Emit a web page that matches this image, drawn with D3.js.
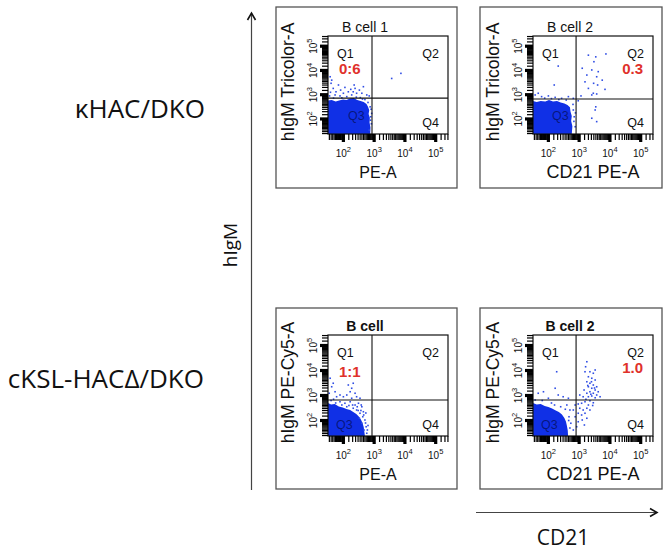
<!DOCTYPE html>
<html>
<head>
<meta charset="utf-8">
<script src="https://d3js.org/d3.v7.min.js"></script>
<style>
  body { margin: 0; background: #fff; }
  svg { display: block; }
</style>
</head>
<body>
<svg id="chart" width="669" height="554"></svg>
<script>
// all fluorescence values below are log10 intensities [x, y]
var rowLabels = ["\u03baHAC/DKO", "cKSL-HAC\u0394/DKO"];
var bigAxisLabels = ["hIgM", "CD21"];
var panelTitles = ["B cell 1", "B cell 2", "B cell", "B cell 2"];
var xAxisLabels = ["PE-A", "CD21 PE-A", "PE-A", "CD21 PE-A"];
var yAxisLabels = ["hIgM Tricolor-A", "hIgM Tricolor-A", "hIgM PE-Cy5-A", "hIgM PE-Cy5-A"];
var quadrantNames = ["Q1", "Q2", "Q3", "Q4"];
var gatePercent = ["0:6", "0.3", "1:1", "1.0"];
var gateQuadrant = ["Q1", "Q2", "Q1", "Q2"];
var tickExponents = [2, 3, 4, 5];
var gateX = [2.93, 2.90, 2.93, 2.90];
var gateY = [2.86, 2.82, 2.82, 2.82];

// dense population outline (Q3) per panel
var blob1 = [[1.5,1.38],[1.5,2.76],[1.62,2.78],[1.75,2.72],[1.86,2.76],[1.99,2.80],[2.10,2.78],[2.22,2.84],
  [2.33,2.86],[2.45,2.78],[2.56,2.74],[2.66,2.70],[2.75,2.62],[2.80,2.50],[2.84,2.36],[2.82,2.20],[2.86,2.05],
  [2.85,1.85],[2.88,1.65],[2.87,1.38]];
var blob2 = [[1.5,1.38],[1.5,2.74],[1.62,2.70],[1.75,2.74],[1.90,2.72],[2.02,2.78],[2.15,2.72],[2.28,2.74],
  [2.40,2.68],[2.52,2.64],[2.62,2.58],[2.70,2.48],[2.72,2.30],[2.76,2.12],[2.74,1.92],[2.78,1.70],[2.76,1.38]];
var blob3 = [[1.5,1.38],[1.5,2.70],[1.60,2.64],[1.72,2.66],[1.85,2.56],[1.98,2.52],[2.10,2.46],[2.22,2.42],
  [2.32,2.34],[2.42,2.26],[2.50,2.16],[2.57,2.04],[2.62,1.90],[2.66,1.74],[2.68,1.56],[2.70,1.38]];
var blob4 = [[1.5,1.38],[1.5,2.70],[1.62,2.64],[1.75,2.66],[1.88,2.58],[2.00,2.54],[2.12,2.48],[2.24,2.40],
  [2.34,2.34],[2.44,2.24],[2.52,2.10],[2.57,1.96],[2.60,1.80],[2.63,1.60],[2.64,1.38]];

// single events outside the dense population
var dots1 = [[1.62,3.60],[1.67,3.26],[1.76,3.12],[1.84,3.40],[1.91,3.19],[2.00,3.06],[2.05,3.30],[2.16,3.12],
  [2.24,3.22],[2.32,3.12],[2.38,3.26],[2.43,3.06],[2.52,3.19],[2.60,3.06],[2.65,3.33],[2.35,3.40],[2.27,2.99],
  [1.89,2.95],[1.73,2.99],[2.11,2.92],[2.76,2.99],[2.84,2.95],[1.57,3.74],[1.60,3.47],[3.57,3.67],[3.87,3.88],
  [2.87,2.50],[2.89,2.09],[2.84,1.54],[2.92,2.23],[1.55,2.95],[1.58,3.10],[2.55,2.88],[2.70,2.80],[2.91,1.80],
  [2.90,2.40],[2.88,1.95],[2.80,2.68],[2.62,2.82],[2.42,2.90],[1.68,2.86],[1.95,2.87]];
var dots2 = [[3.30,4.63],[3.54,4.56],[3.87,4.68],[3.48,4.36],[3.10,4.09],[3.41,4.02],[3.62,3.95],[3.25,3.81],
  [3.57,3.74],[3.75,3.60],[3.19,3.53],[3.47,3.47],[3.60,3.40],[3.30,3.26],[3.46,3.06],[3.57,3.03],[3.41,2.99],
  [3.06,2.95],[3.84,3.22],[3.54,2.50],[3.52,2.37],[3.41,2.03],[3.57,1.89],[2.32,4.18],[2.19,3.40],[1.67,3.06],
  [1.57,2.99],[1.78,2.92],[2.00,2.95],[2.22,2.89],[2.43,2.85],[2.65,2.92],[2.81,2.85],[2.97,2.75],[2.81,2.37],
  [2.84,2.09],[2.87,1.68],[2.80,2.60],[2.83,1.90],[2.88,2.25],[2.58,2.78],[1.88,2.86],[2.10,2.84],[2.34,2.80]];
var dots3 = [[1.57,3.69],[1.62,3.35],[1.54,3.09],[1.73,3.15],[1.78,2.95],[2.16,3.42],[2.27,3.29],[2.32,3.49],
  [2.22,3.15],[2.38,3.09],[2.11,3.02],[2.43,2.95],[2.00,2.95],[1.89,3.02],[2.27,2.89],[2.54,2.89],[1.67,3.49],
  [1.89,2.75],[2.05,2.69],[2.22,2.75],[2.38,2.62],[2.49,2.69],[2.60,2.55],[2.43,2.42],[2.54,2.29],[2.65,2.35],
  [2.63,2.15],[2.70,2.02],[2.60,1.89],[2.74,1.75],[2.67,1.62],[2.76,1.49],[2.32,2.49],[2.11,2.55],[1.95,2.62],
  [2.52,2.09],[1.60,2.80],[1.75,2.70],[2.45,2.55],[2.57,2.40],[2.72,1.90],[2.78,1.62],[2.66,2.22],[2.58,2.62],
  [2.30,2.62],[2.18,2.60],[1.68,2.85],[2.48,2.40],[2.73,2.30],[2.80,1.80]];
var dots4 = [[3.25,4.35],[3.21,4.15],[3.35,3.95],[3.46,3.89],[3.30,3.75],[3.41,3.69],[3.52,3.62],[3.25,3.55],
  [3.35,3.49],[3.46,3.42],[3.57,3.35],[3.30,3.35],[3.41,3.29],[3.16,3.22],[3.52,3.22],[3.62,3.15],[3.35,3.15],
  [3.46,3.09],[3.25,3.09],[3.57,3.02],[3.41,2.98],[3.30,2.95],[3.68,2.95],[3.52,2.91],[3.13,2.95],[3.02,3.02],
  [3.19,3.95],[3.52,4.02],[3.35,2.79],[3.19,2.75],[3.46,2.71],[3.08,2.69],[3.30,2.62],[2.97,2.66],[2.87,2.62],
  [3.25,2.49],[3.13,2.42],[3.02,2.49],[3.35,2.42],[3.19,2.29],[3.08,2.22],[2.97,2.29],[3.25,2.09],[3.10,2.02],
  [2.97,1.95],[3.17,1.82],[2.87,2.15],[2.81,2.42],[2.92,1.75],[2.81,1.62],[1.67,3.09],[1.84,3.15],[2.22,3.29],
  [2.32,3.02],[2.48,2.95],[2.65,2.89],[2.00,2.89],[2.27,3.95],[1.57,2.82],[2.60,2.62],[2.70,2.42],[2.67,2.15],
  [2.73,1.89],[3.40,3.55],[3.28,3.40],[3.50,3.30],[3.38,3.05],[3.22,2.85],[3.44,2.60],[2.55,2.45],[2.66,2.00],
  [2.70,1.70],[2.40,2.55],[2.20,2.62],[1.80,2.80],[2.10,2.70]];

var blobs = [blob1, blob2, blob3, blob4];
var dots = [dots1, dots2, dots3, dots4];

// panel geometry (plot area + outer box)
var plots = [
  { x: 328, y: 36, w: 120, h: 98, box: [276, 7, 181, 181], xlab: 378, bold: false },
  { x: 533, y: 36, w: 120, h: 98, box: [480, 7, 182, 181], xlab: 593, bold: false },
  { x: 328, y: 335, w: 120, h: 101, box: [276, 308, 181, 181], xlab: 378, bold: true },
  { x: 533, y: 335, w: 120, h: 101, box: [480, 308, 182, 181], xlab: 593, bold: true }
];

var svg = d3.select("#chart");
var arial = "'Liberation Sans', Arial, sans-serif";
var sans = "'Open Sans', 'Noto Sans', sans-serif";
var blue = "#1030e6";

/*** OUTER LABELS AND ARROWS ***/
svg.append("text").attr("x", 205).attr("y", 118).attr("text-anchor", "end")
  .attr("font-family", sans).attr("font-size", 26).attr("fill", "#111").text(rowLabels[0]);
svg.append("text").attr("x", 204).attr("y", 388).attr("text-anchor", "end")
  .attr("font-family", sans).attr("font-size", 26).attr("fill", "#111").text(rowLabels[1]);
svg.append("text").attr("transform", "translate(237,245) rotate(-90)").attr("text-anchor", "middle")
  .attr("font-family", sans).attr("font-size", 19).attr("fill", "#111").text(bigAxisLabels[0]);
svg.append("text").attr("x", 563).attr("y", 545).attr("text-anchor", "middle")
  .attr("font-family", sans).attr("font-size", 21).attr("fill", "#111").text(bigAxisLabels[1]);

svg.append("line").attr("x1", 251.5).attr("y1", 490).attr("x2", 251.5).attr("y2", 13)
  .attr("stroke", "#444").attr("stroke-width", 1.2);
svg.append("path").attr("d", "M247.5,20 L251.5,13 L255.5,20").attr("fill", "none")
  .attr("stroke", "#111").attr("stroke-width", 1.6);
svg.append("line").attr("x1", 476).attr("y1", 512.5).attr("x2", 657).attr("y2", 512.5)
  .attr("stroke", "#444").attr("stroke-width", 1.2);
svg.append("path").attr("d", "M650,508.5 L657,512.5 L650,516.5").attr("fill", "none")
  .attr("stroke", "#111").attr("stroke-width", 1.6);

/*** PANELS ***/
//dense comb of minor ticks, like the cytometer software draws
var minorTicks = [];
for (let k = 1; k <= 5; k++) {
  for (let m = 1.5; m < 10; m += 0.5) {
    if (m !== 1) minorTicks.push(m * Math.pow(10, k));
  }
}

plots.forEach(function(p, i) {
  let g = svg.append("g");
  let x = d3.scaleLog().domain([Math.pow(10, 1.5), Math.pow(10, 5.4)]).range([p.x, p.x + p.w]);
  let y = d3.scaleLog().domain([Math.pow(10, 1.38), Math.pow(10, 5.42)]).range([p.y + p.h, p.y]);
  let px = d => x(Math.pow(10, d));
  let py = d => y(Math.pow(10, d));

  g.append("rect").attr("x", p.box[0]).attr("y", p.box[1]).attr("width", p.box[2]).attr("height", p.box[3])
    .attr("fill", "none").attr("stroke", "#555").attr("stroke-width", 1.3);

  g.append("clipPath").attr("id", "clip" + i).append("rect")
    .attr("x", p.x).attr("y", p.y).attr("width", p.w).attr("height", p.h);
  let inner = g.append("g").attr("clip-path", "url(#clip" + i + ")");

  //dense population
  let line = d3.line().x(d => px(d[0])).y(d => py(d[1]));
  inner.append("path").attr("d", line(blobs[i]) + "Z").attr("fill", blue);

  //single events
  inner.selectAll("rect.ev").data(dots[i]).enter().append("rect").attr("class", "ev")
    .attr("x", d => px(d[0]) - 0.8).attr("y", d => py(d[1]) - 0.8)
    .attr("width", 1.6).attr("height", 1.6).attr("fill", "#2f4de4");

  //quadrant gate
  g.append("line").attr("x1", px(gateX[i])).attr("x2", px(gateX[i])).attr("y1", p.y).attr("y2", p.y + p.h)
    .attr("stroke", "#111").attr("stroke-width", 1.1);
  g.append("line").attr("x1", p.x).attr("x2", p.x + p.w).attr("y1", py(gateY[i])).attr("y2", py(gateY[i]))
    .attr("stroke", "#111").attr("stroke-width", 1.1);

  g.append("rect").attr("x", p.x).attr("y", p.y).attr("width", p.w).attr("height", p.h)
    .attr("fill", "none").attr("stroke", "#111").attr("stroke-width", 1.2);

  //quadrant names
  let qpos = {
    Q1: [p.x + 9, p.y + 22, "start"], Q2: [p.x + p.w - 9, p.y + 22, "end"],
    Q3: [p.x + 8, p.y + p.h - 7, "start"], Q4: [p.x + p.w - 9, p.y + p.h - 7, "end"]
  };
  if (i < 2) qpos.Q3 = [px(gateX[i]) - 24, p.y + 84, "start"];
  quadrantNames.forEach(function(q) {
    g.append("text").attr("x", qpos[q][0]).attr("y", qpos[q][1]).attr("text-anchor", qpos[q][2])
      .attr("font-family", arial).attr("font-size", 12.5)
      .attr("fill", q === "Q3" ? "rgba(0,0,30,0.55)" : "#111").text(q);
  });

  //percentage of gated events
  let gq = qpos[gateQuadrant[i]];
  g.append("text").attr("x", gq[2] === "start" ? gq[0] + 2 : gq[0] - 1).attr("y", gq[1] + (i === 2 ? 20 : 16))
    .attr("text-anchor", gq[2]).attr("font-family", arial).attr("font-size", 15).attr("font-weight", "bold")
    .attr("fill", "#e0312b").text(gatePercent[i]);

  //titles and axis labels
  g.append("text").attr("x", p.x + 37).attr("y", p.y - 4).attr("text-anchor", "middle")
    .attr("font-family", arial).attr("font-size", 14).attr("font-weight", p.bold ? "bold" : "normal")
    .attr("fill", "#111").text(panelTitles[i]);
  g.append("text").attr("x", p.xlab).attr("y", p.y + p.h + 44).attr("text-anchor", "middle")
    .attr("font-family", arial).attr("font-size", i % 2 ? 18 : 16).attr("fill", "#111").text(xAxisLabels[i]);
  g.append("text").attr("transform", "translate(" + (p.x - 34) + "," + (p.y + p.h / 2 - 3) + ") rotate(-90)")
    .attr("text-anchor", "middle").attr("font-family", arial).attr("font-size", 17.5)
    .attr("fill", "#111").text(yAxisLabels[i]);

  //axes ticks, as filled rects so the heavy logicle look is kept
  let majors = tickExponents.map(e => Math.pow(10, e));
  let minorsX = minorTicks.filter(v => v > x.domain()[0] && v < x.domain()[1]);
  let minorsY = minorTicks.filter(v => v > y.domain()[0] && v < y.domain()[1]);
  let bottom = p.y + p.h;
  let tk = svg.append("g").attr("class", "ticks");
  minorsX.forEach(function(v) {
    tk.append("rect").attr("x", x(v) - 0.6).attr("y", bottom).attr("width", 1.2).attr("height", 6).attr("fill", "#000");
  });
  majors.forEach(function(v) {
    tk.append("rect").attr("x", x(v) - 1.6).attr("y", bottom).attr("width", 3.2).attr("height", 8).attr("fill", "#000");
  });
  minorsY.forEach(function(v) {
    tk.append("rect").attr("x", p.x - 6).attr("y", y(v) - 0.6).attr("width", 6).attr("height", 1.2).attr("fill", "#000");
  });
  majors.forEach(function(v) {
    tk.append("rect").attr("x", p.x - 8).attr("y", y(v) - 1.6).attr("width", 8).attr("height", 3.2).attr("fill", "#000");
  });

  tickExponents.forEach(function(e) {
    let t = g.append("text").attr("x", px(e)).attr("y", p.y + p.h + 23).attr("text-anchor", "middle")
      .attr("font-family", arial).attr("font-size", 10).attr("fill", "#111");
    t.append("tspan").text("10");
    t.append("tspan").attr("dy", -5).attr("font-size", 7.5).text(e);
    let ty = g.append("text").attr("transform", "translate(" + (p.x - 11) + "," + py(e) + ") rotate(-90)")
      .attr("text-anchor", "middle").attr("font-family", arial).attr("font-size", 10).attr("fill", "#111");
    ty.append("tspan").text("10");
    ty.append("tspan").attr("dy", -5).attr("font-size", 7.5).text(e);
  });
});
</script>
</body>
</html>
